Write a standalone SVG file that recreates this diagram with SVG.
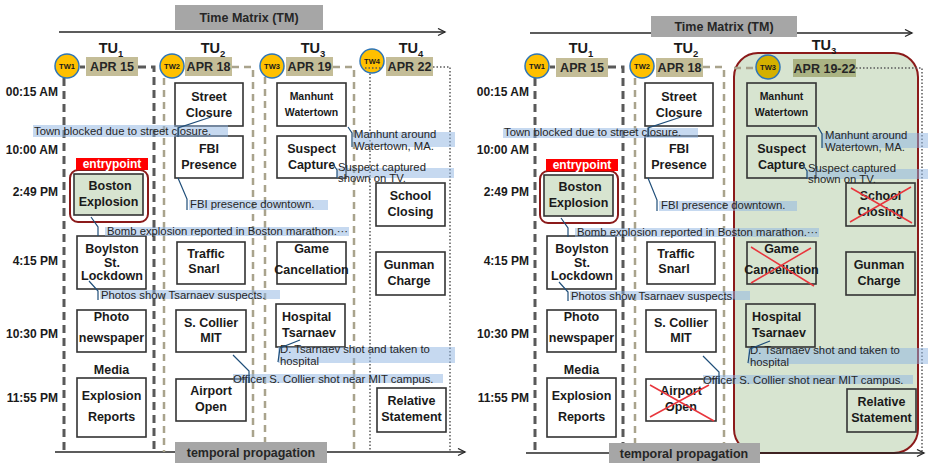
<svg xmlns="http://www.w3.org/2000/svg" width="928" height="464" viewBox="0 0 928 464">
<defs>
<marker id="arr" markerWidth="10" markerHeight="10" refX="8" refY="4" orient="auto" markerUnits="userSpaceOnUse">
<path d="M1,0.5 L8,4 L1,7.5" fill="none" stroke="#262626" stroke-width="1.3"/>
</marker>
<style>
text{font-family:"Liberation Sans",Arial,sans-serif}
.bg{fill:#fff}
.nd rect{fill:#fff;stroke:#333;stroke-width:1.6}
.ng rect{fill:none;stroke:#333;stroke-width:1.6}
.nt{font-weight:bold;font-size:12.5px;fill:#1a1a1a;text-anchor:middle}
.nl{text-anchor:start}
.ns{font-weight:bold;font-size:10.5px;fill:#1a1a1a;text-anchor:middle}
.tm{font-weight:bold;font-size:12px;fill:#1a1a1a;text-anchor:end}
.ann rect{fill:#8DB3E2;fill-opacity:.5}
.ann text{font-size:11.3px;fill:#262626}
.conn{stroke:#1F4E79;stroke-width:1.2;fill:none}
.dk{stroke:#595959;stroke-width:3;stroke-dasharray:8 5;fill:none}
.lt{stroke:#A9A38C;stroke-width:2.5;stroke-dasharray:7 5;fill:none}
.dt{stroke:#595959;stroke-width:1.5;stroke-dasharray:1.5 2;fill:none}
.tw{fill:#FFC000;stroke:#2E75B6;stroke-width:1.5}
.twt{font-weight:bold;font-size:7.5px;fill:#1a1a1a;text-anchor:middle}
.apr{fill:#C4BD97}
.aprt{font-weight:bold;font-size:12.5px;fill:#262626;text-anchor:middle}
.hdr{fill:#A6A6A6}
.hdrt{font-weight:bold;font-size:12.5px;fill:#262626;text-anchor:middle}
.tu{font-weight:bold;font-size:14.5px;fill:#1a1a1a;text-anchor:middle}
.axis{stroke:#262626;stroke-width:1.3;fill:none}
.x{stroke:#E8363D;stroke-width:1.5}
.ep{fill:#FF0000}
.ept{font-weight:bold;font-size:12px;fill:#fff;text-anchor:middle}
.epo{fill:none;stroke:#8B1A1A;stroke-width:2}
.epi{fill:#D7E4D0;stroke:#333;stroke-width:1.6}
</style>
</defs>
<rect class="bg" x="0" y="0" width="928" height="464"/>

<!-- ===================== LEFT PANEL ===================== -->
<g id="L-frame">
<path class="axis" d="M59,32 H445" marker-end="url(#arr)"/>
<rect class="hdr" x="175" y="5" width="148" height="25"/>
<text class="hdrt" x="249" y="22">Time Matrix (TM)</text>
<path class="axis" d="M55,452 H465" marker-end="url(#arr)"/>
<text class="tm" x="58" y="96">00:15 AM</text>
<text class="tm" x="58" y="154">10:00 AM</text>
<text class="tm" x="58" y="196">2:49 PM</text>
<text class="tm" x="58" y="265">4:15 PM</text>
<text class="tm" x="58" y="338">10:30 PM</text>
<text class="tm" x="58" y="402">11:55 PM</text>
<path class="dk" d="M64,78 V452"/>
<path class="dk" d="M80,67 H85"/>
<path class="dk" d="M138,67 H154 V452"/>
<path class="lt" d="M164,78 V452"/>
<path class="lt" d="M232,67 H253 V452"/>
<path class="lt" d="M265,77 V452"/>
<path class="lt" d="M333,67 H354 V452"/>
<path class="dt" d="M370,70 V452"/>
<path class="dt" d="M433,67 H450 V452"/>
</g>
<g id="L-TU1"><text class="tu" x="111" y="53">TU<tspan font-size="9.5" dy="4">1</tspan></text></g>
<g id="L-TU2"><text class="tu" x="213" y="53">TU<tspan font-size="9.5" dy="4">2</tspan></text></g>
<g id="L-TU3"><text class="tu" x="313" y="53">TU<tspan font-size="9.5" dy="4">3</tspan></text></g>
<g id="L-TU4"><text class="tu" x="411" y="53">TU<tspan font-size="9.5" dy="4">4</tspan></text></g>
<g id="L-TW1"><circle class="tw" cx="67" cy="66" r="12"/><text class="twt" x="67" y="69">TW1</text>
<rect class="apr" x="86" y="57" width="52" height="19"/><text class="aprt" x="112" y="71">APR 15</text></g>
<g id="L-TW2"><circle class="tw" cx="172" cy="66" r="12"/><text class="twt" x="172" y="69">TW2</text>
<rect class="apr" x="185" y="57" width="47" height="19"/><text class="aprt" x="208.5" y="71">APR 18</text></g>
<g id="L-TW3"><circle class="tw" cx="272" cy="66" r="12"/><text class="twt" x="272" y="69">TW3</text>
<rect class="apr" x="286" y="57" width="47" height="19"/><text class="aprt" x="309.5" y="71">APR 19</text></g>
<g id="L-TW4"><circle class="tw" cx="372" cy="61" r="12"/><text class="twt" x="372" y="64">TW4</text>
<path class="dt" d="M365,68 H381"/>
<rect class="apr" x="386" y="57" width="47" height="19"/><text class="aprt" x="409.5" y="71">APR 22</text></g>

<g id="L-street" class="nd"><rect x="175" y="83" width="68" height="43"/><text class="nt" x="209" y="101">Street</text><text class="nt" x="209" y="117">Closure</text></g>
<g id="L-fbi" class="nd"><rect x="175" y="136" width="68" height="42"/><text class="nt" x="209" y="153">FBI</text><text class="nt" x="209" y="169">Presence</text></g>
<g id="L-manhunt" class="nd"><rect x="277" y="83" width="69" height="43"/><text class="ns" x="311.5" y="100">Manhunt</text><text class="ns" x="311.5" y="116">Watertown</text></g>
<g id="L-suspect" class="nd"><rect x="277" y="136" width="69" height="42"/><text class="nt" x="311.5" y="153">Suspect</text><text class="nt" x="311.5" y="169">Capture</text></g>
<g id="L-boston">
<rect class="epo" x="70" y="170" width="78" height="52" rx="8"/>
<rect class="ep" x="76" y="158" width="72" height="12"/><text class="ept" x="112" y="168">entrypoint</text>
<rect class="epi" x="74" y="174" width="69" height="41"/><text class="nt" x="110" y="190">Boston</text><text class="nt" x="108.5" y="206">Explosion</text></g>
<g id="L-school" class="nd"><rect x="376" y="183" width="69" height="43"/><text class="nt" x="410.5" y="200">School</text><text class="nt" x="410.5" y="216">Closing</text></g>
<g id="L-boylston" class="nd"><rect x="77" y="236" width="69" height="53"/><text class="nt" x="112" y="253">Boylston</text><text class="nt" x="112" y="267">St.</text><text class="nt" x="112" y="280">Lockdown</text></g>
<g id="L-traffic" class="nd"><rect x="177" y="242" width="68" height="42"/><text class="nt" x="206" y="258">Traffic</text><text class="nt" x="204" y="273">Snarl</text></g>
<g id="L-game" class="nd"><rect x="277" y="242" width="69" height="42"/><text class="nt" x="311.5" y="253">Game</text><text class="nt" x="311.5" y="274">Cancellation</text></g>
<g id="L-gunman" class="nd"><rect x="376" y="252" width="69" height="43"/><text class="nt" x="409" y="269">Gunman</text><text class="nt" x="409" y="285">Charge</text></g>
<g id="L-photo" class="nd"><rect x="77" y="310" width="69" height="42"/><text class="nt" x="111.5" y="321">Photo</text><text class="nt" x="111.5" y="342">newspaper</text></g>
<g id="L-media"><text class="nt" x="111.5" y="374">Media</text></g>
<g id="L-explosion" class="nd"><rect x="77" y="378" width="69" height="59"/><text class="nt" x="111.5" y="400">Explosion</text><text class="nt" x="111.5" y="421">Reports</text></g>
<g id="L-collier" class="nd"><rect x="176" y="310" width="70" height="42"/><text class="nt" x="211" y="327">S. Collier</text><text class="nt" x="211" y="342">MIT</text></g>
<g id="L-airport" class="nd"><rect x="176" y="379" width="70" height="42"/><text class="nt" x="211" y="395">Airport</text><text class="nt" x="211" y="411">Open</text></g>
<g id="L-hospital" class="nd"><rect x="276" y="304" width="69" height="43"/><text class="nt nl" x="282" y="321">Hospital</text><text class="nt nl" x="282" y="337">Tsarnaev</text></g>
<g id="L-relative" class="nd"><rect x="377" y="388" width="69" height="44"/><text class="nt" x="411.5" y="405">Relative</text><text class="nt" x="411.5" y="421">Statement</text></g>

<g id="L-annotations" class="ann">
<rect x="33" y="125" width="195" height="12"/><text x="34" y="135">Town blocked due to street closure.</text>
<rect x="353" y="132" width="102" height="15"/><text x="354" y="138">Manhunt around</text><text x="354" y="150">Watertown, MA.</text>
<rect x="337" y="168" width="117" height="10"/><text x="338" y="171">Suspect captured</text><text x="338" y="182">shown on TV.</text>
<rect x="189" y="200" width="139" height="10"/><text x="190" y="208">FBI presence downtown.</text>
<rect x="105" y="227" width="244" height="9"/><text x="107" y="235">Bomb explosion reported in Boston marathon.···</text>
<rect x="100" y="290" width="180" height="9"/><text x="101" y="299">Photos show Tsarnaev suspects.</text>
<rect x="278" y="347" width="177" height="16"/><text x="280" y="353">D. Tsarnaev shot and taken to</text><text x="280" y="365">hospital</text>
<rect x="233" y="374" width="210" height="9"/><text x="233" y="383">Officer S. Collier shot near MIT campus.</text>
</g>
<g id="L-bottom"><rect class="hdr" x="175" y="442" width="152" height="21"/><text class="hdrt" x="251" y="457">temporal propagation</text></g>

<!-- ===================== RIGHT PANEL ===================== -->
<g id="R-frame">
<path class="axis" d="M530,33 H912" marker-end="url(#arr)"/>
<rect class="hdr" x="651" y="16" width="146" height="21"/>
<text class="hdrt" x="724" y="31">Time Matrix (TM)</text>
<text class="tm" x="529" y="96">00:15 AM</text>
<text class="tm" x="529" y="154">10:00 AM</text>
<text class="tm" x="529" y="196">2:49 PM</text>
<text class="tm" x="529" y="265">4:15 PM</text>
<text class="tm" x="529" y="338">10:30 PM</text>
<text class="tm" x="529" y="402">11:55 PM</text>
<path class="dk" d="M535,78 V453"/>
<path class="dk" d="M550,67 H555"/>
<path class="dk" d="M608,67 H623 V453"/>
<path class="lt" d="M635,78 V453"/>
<path class="lt" d="M703,67 H724 V453"/>
</g>
<g id="R-TW3-region">
<rect x="734" y="53" width="184" height="400" rx="24" fill="#D7E4D0" stroke="#8B1A1A" stroke-width="2"/>
<path class="lt" d="M734,68 H756"/>
<path class="dt" d="M856,68 H922 V453"/>
</g>
<path class="axis" d="M526,453 H924" marker-end="url(#arr)"/>
<g id="R-TU1"><text class="tu" x="581" y="53">TU<tspan font-size="9.5" dy="4">1</tspan></text></g>
<g id="R-TU2"><text class="tu" x="686" y="53">TU<tspan font-size="9.5" dy="4">2</tspan></text></g>
<g id="R-TU3"><text class="tu" x="824" y="50">TU<tspan font-size="9.5" dy="4">3</tspan></text></g>
<g id="R-TW1"><circle class="tw" cx="537" cy="66" r="12"/><text class="twt" x="537" y="69">TW1</text>
<rect class="apr" x="556" y="58" width="52" height="19"/><text class="aprt" x="582" y="72">APR 15</text></g>
<g id="R-TW2"><circle class="tw" cx="642" cy="66" r="12"/><text class="twt" x="642" y="69">TW2</text>
<rect class="apr" x="656" y="58" width="47" height="19"/><text class="aprt" x="679.5" y="72">APR 18</text></g>
<g id="R-TW3"><circle cx="768" cy="67" r="12" fill="#D4B000" stroke="#2E75B6" stroke-width="1.5"/><text class="twt" x="768" y="70">TW3</text>
<rect x="793" y="59" width="63" height="18" fill="#AAB383"/><text class="aprt" x="824.5" y="73">APR 19-22</text></g>

<g id="R-street" class="nd"><rect x="645" y="83" width="68" height="43"/><text class="nt" x="679" y="101">Street</text><text class="nt" x="679" y="117">Closure</text></g>
<g id="R-fbi" class="nd"><rect x="645" y="136" width="68" height="42"/><text class="nt" x="679" y="153">FBI</text><text class="nt" x="679" y="169">Presence</text></g>
<g id="R-manhunt" class="ng"><rect x="747" y="83" width="69" height="43"/><text class="ns" x="781.5" y="100">Manhunt</text><text class="ns" x="781.5" y="116">Watertown</text></g>
<g id="R-suspect" class="ng"><rect x="747" y="136" width="69" height="42"/><text class="nt" x="781.5" y="153">Suspect</text><text class="nt" x="781.5" y="169">Capture</text></g>
<g id="R-boston">
<rect class="epo" x="540" y="171" width="78" height="52" rx="8"/>
<rect class="ep" x="546" y="159" width="72" height="12"/><text class="ept" x="582" y="169">entrypoint</text>
<rect class="epi" x="544" y="175" width="69" height="41"/><text class="nt" x="580" y="191">Boston</text><text class="nt" x="578.5" y="207">Explosion</text></g>
<g id="R-school" class="ng"><rect x="846" y="183" width="69" height="43"/><text class="nt" x="880.5" y="200">School</text><text class="nt" x="880.5" y="216">Closing</text>
<path class="x" d="M850,222 L911,187 M851,188 L912,223"/></g>
<g id="R-boylston" class="nd"><rect x="547" y="236" width="69" height="53"/><text class="nt" x="582" y="253">Boylston</text><text class="nt" x="582" y="267">St.</text><text class="nt" x="582" y="280">Lockdown</text></g>
<g id="R-traffic" class="nd"><rect x="647" y="242" width="68" height="42"/><text class="nt" x="676" y="258">Traffic</text><text class="nt" x="674" y="273">Snarl</text></g>
<g id="R-game" class="ng"><rect x="747" y="242" width="69" height="42"/><text class="nt" x="781.5" y="253">Game</text><text class="nt" x="781.5" y="274">Cancellation</text>
<path class="x" d="M751,283 L811,248 M751,247 L814,286"/></g>
<g id="R-gunman" class="ng"><rect x="846" y="252" width="69" height="43"/><text class="nt" x="879" y="269">Gunman</text><text class="nt" x="879" y="285">Charge</text></g>
<g id="R-photo" class="nd"><rect x="547" y="310" width="69" height="42"/><text class="nt" x="581.5" y="321">Photo</text><text class="nt" x="581.5" y="342">newspaper</text></g>
<g id="R-media"><text class="nt" x="581.5" y="374">Media</text></g>
<g id="R-explosion" class="nd"><rect x="547" y="378" width="69" height="59"/><text class="nt" x="581.5" y="400">Explosion</text><text class="nt" x="581.5" y="421">Reports</text></g>
<g id="R-collier" class="nd"><rect x="646" y="310" width="70" height="42"/><text class="nt" x="681" y="327">S. Collier</text><text class="nt" x="681" y="342">MIT</text></g>
<g id="R-airport" class="nd"><rect x="646" y="379" width="70" height="42"/><text class="nt" x="681" y="395">Airport</text><text class="nt" x="681" y="411">Open</text>
<path class="x" d="M650,417 L709,385 M650,385 L714,421"/></g>
<g id="R-hospital" class="ng"><rect x="746" y="304" width="69" height="43"/><text class="nt nl" x="752" y="321">Hospital</text><text class="nt nl" x="752" y="337">Tsarnaev</text></g>
<g id="R-relative" class="ng"><rect x="847" y="389" width="69" height="43"/><text class="nt" x="881.5" y="406">Relative</text><text class="nt" x="881.5" y="422">Statement</text></g>

<g id="R-annotations" class="ann">
<rect x="503" y="128" width="195" height="10"/><text x="504" y="136">Town blocked due to street closure.</text>
<rect x="822" y="133" width="106" height="15"/><text x="825" y="139">Manhunt around</text><text x="825" y="151">Watertown, MA.</text>
<rect x="807" y="169" width="121" height="10"/><text x="808" y="172">Suspect captured</text><text x="808" y="183">shown on TV.</text>
<rect x="659" y="201" width="138" height="10"/><text x="661" y="209">FBI presence downtown.</text>
<rect x="575" y="228" width="244" height="9"/><text x="577" y="236">Bomb explosion reported in Boston marathon.···</text>
<rect x="570" y="291" width="180" height="9"/><text x="571" y="300">Photos show Tsarnaev suspects.</text>
<rect x="748" y="348" width="180" height="16"/><text x="750" y="354">D. Tsarnaev shot and taken to</text><text x="750" y="366">hospital</text>
<rect x="703" y="375" width="210" height="9"/><text x="703" y="384">Officer S. Collier shot near MIT campus.</text>
</g>
<g id="R-bottom"><rect class="hdr" x="609" y="443" width="151" height="20"/><text class="hdrt" x="684" y="458">temporal propagation</text></g>

<g id="connectors">
<polyline class="conn" points="211,117 178,128 178,137"/>
<polyline class="conn" points="348,127 352,133 352,147"/>
<polyline class="conn" points="333,164 337,170 337,178"/>
<polyline class="conn" points="178,178 187,199 187,210"/>
<polyline class="conn" points="91,217 98,227 98,236"/>
<polyline class="conn" points="89,281 98,291 98,300"/>
<polyline class="conn" points="300,340 280,348 278,362"/>
<polyline class="conn" points="233,355 249,371 249,383"/>
<polyline class="conn" points="681,117 648,128 648,137"/>
<polyline class="conn" points="818,127 822,134 822,148"/>
<polyline class="conn" points="803,165 807,171 807,179"/>
<polyline class="conn" points="648,178 657,200 657,211"/>
<polyline class="conn" points="561,218 568,228 568,237"/>
<polyline class="conn" points="559,282 568,292 568,301"/>
<polyline class="conn" points="770,341 750,349 748,363"/>
<polyline class="conn" points="703,356 719,372 719,384"/>
</g>
</svg>
